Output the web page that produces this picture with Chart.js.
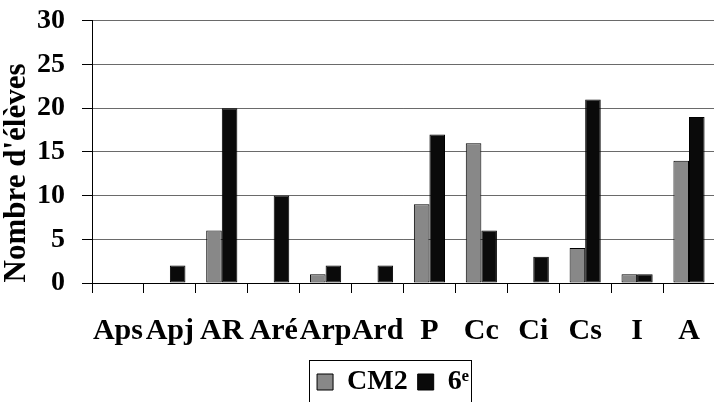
<!DOCTYPE html>
<html>
<head>
<meta charset="utf-8">
<script src="https://cdn.jsdelivr.net/npm/chart.js@4.4.0/dist/chart.umd.min.js"></script>
<style>
  html, body { margin: 0; padding: 0; background: #fff; overflow: hidden; }
  #wrap { width: 720px; height: 402px; overflow: hidden; position: relative; }
  #c { position: absolute; left: 0; top: -13px; }
</style>
</head>
<body>
<div id="wrap"><canvas id="c" width="720" height="419"></canvas></div>
<script>
const categories = ["Aps", "Apj", "AR", "Aré", "Arp", "Ard", "P", "Cc", "Ci", "Cs", "I", "A"];
const seriesNames = ["CM2", "6ᵉ"];
const cm2Values = [0, 0, 6, 0, 1, 0, 9, 16, 0, 4, 1, 14];
const sixiemeValues = [0, 2, 20, 10, 2, 2, 17, 6, 3, 21, 1, 19];
const yMin = 0;
const yMax = 30;
const yStep = 5;
const yTitle = "Nombre d'élèves";

const SERIF = '"Liberation Serif", "Times New Roman", serif';

const yTitlePlugin = {
  id: 'yTitle',
  afterDraw(chart) {
    const ctx = chart.ctx;
    ctx.save();
    ctx.font = 'bold 31px ' + SERIF;
    ctx.fillStyle = '#000';
    ctx.textAlign = 'center';
    ctx.textBaseline = 'alphabetic';
    // canvas is shifted 13px up inside the page
    ctx.translate(25, 173 + 13);
    ctx.rotate(-Math.PI / 2);
    ctx.fillText(yTitle, 0, 0);
    ctx.restore();
  }
};

const legendShiftPlugin = {
  id: 'legendShift',
  afterLayout(chart) {
    const lg = chart.legend;
    if (!lg) return;
    lg.left += 35;
    lg.right += 35;
  }
};

const legendBorderPlugin = {
  id: 'legendBorder',
  afterDraw(chart) {
    const lg = chart.legend;
    if (!lg || !lg.legendHitBoxes || !lg.legendHitBoxes.length) return;
    const hb = lg.legendHitBoxes;
    const first = hb[0], last = hb[hb.length - 1];
    const left = Math.round(first.left) - 7.5;
    const right = Math.round(last.left + last.width) + 2.5;
    const top = Math.round(first.top) - 7.5;
    const ctx = chart.ctx;
    ctx.save();
    ctx.strokeStyle = '#000';
    ctx.lineWidth = 1;
    ctx.strokeRect(left, top, right - left, 80);
    ctx.restore();
  }
};

new Chart(document.getElementById('c'), {
  type: 'bar',
  data: {
    labels: categories,
    datasets: [
      {
        label: seriesNames[0],
        data: cm2Values,
        backgroundColor: '#888888',
        borderColor: '#000000',
        borderWidth: 1,
        borderSkipped: false,
        categoryPercentage: 0.6,
        barPercentage: 1.0
      },
      {
        label: seriesNames[1],
        data: sixiemeValues,
        backgroundColor: '#0a0a0a',
        borderColor: '#000000',
        borderWidth: 1,
        borderSkipped: false,
        categoryPercentage: 0.6,
        barPercentage: 1.0
      }
    ]
  },
  options: {
    responsive: false,
    animation: false,
    events: [],
    layout: { padding: { top: 0, right: 4, left: 0, bottom: 0 } },
    plugins: {
      tooltip: { enabled: false },
      title: { display: false },
      legend: {
        display: true,
        position: 'bottom',
        labels: {
          boxWidth: 16,
          boxHeight: 16,
          padding: 10,
          color: '#000',
          font: { family: SERIF, size: 28, weight: 'bold' }
        }
      }
    },
    scales: {
      x: {
        offset: true,
        grid: {
          display: true,
          offset: true,
          drawOnChartArea: false,
          drawTicks: true,
          tickLength: 10,
          tickColor: '#000',
          color: '#000'
        },
        border: { display: true, color: '#000', width: 1 },
        ticks: {
          autoSkip: false,
          maxRotation: 0,
          minRotation: 0,
          padding: 20,
          color: '#000',
          font: { family: SERIF, size: 30, weight: 'bold' }
        },
        afterFit(scale) { scale.height = 75; }
      },
      y: {
        min: yMin,
        max: yMax,
        grid: {
          color: '#6a6a6a',
          lineWidth: 1,
          drawTicks: true,
          tickLength: 10,
          tickColor: '#000'
        },
        border: { display: true, color: '#000', width: 1 },
        ticks: {
          stepSize: yStep,
          autoSkip: false,
          padding: 17,
          color: '#000',
          font: { family: SERIF, size: 28, weight: 'bold' }
        },
        afterFit(scale) { scale.width = 92; }
      }
    }
  },
  plugins: [legendShiftPlugin, yTitlePlugin, legendBorderPlugin]
});
</script>
</body>
</html>
